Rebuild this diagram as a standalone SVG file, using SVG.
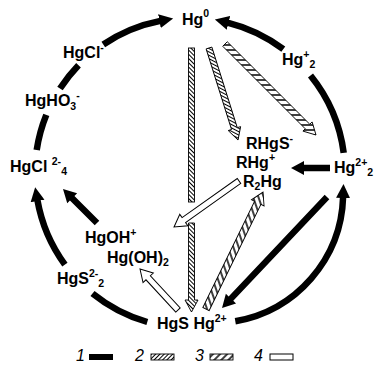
<svg xmlns="http://www.w3.org/2000/svg" width="375" height="366" viewBox="0 0 375 366">
<style>
.lbl{font-family:"Liberation Sans",Arial,sans-serif;font-weight:bold;font-size:16px;fill:#000}
.sm{font-size:10.5px}
.leg{font-family:"Liberation Sans",Arial,sans-serif;font-style:italic;font-size:16px;fill:#000}
.arc{fill:none;stroke:#000;stroke-width:6.5}
.blk{fill:#000}
.h2{fill:url(#h2);stroke:#000;stroke-width:0.9}
.h3{fill:url(#h3);stroke:#000;stroke-width:0.9}
.wht{fill:#fff;stroke:#000;stroke-width:1}
</style>
<defs>
<pattern id="h2" width="3" height="3" patternUnits="userSpaceOnUse" patternTransform="rotate(45)">
<rect width="3" height="3" fill="#fff"/><line x1="0.5" y1="0" x2="0.5" y2="3" stroke="#000" stroke-width="1"/>
</pattern>
<pattern id="h3" width="5" height="5" patternUnits="userSpaceOnUse" patternTransform="rotate(45)">
<rect width="5" height="5" fill="#fff"/><line x1="1" y1="0" x2="1" y2="5" stroke="#000" stroke-width="1.5"/>
</pattern>
<marker id="ah" markerUnits="userSpaceOnUse" markerWidth="16" markerHeight="16" viewBox="0 -8 16 16" refX="1" refY="0" orient="auto">
<path d="M0,-7 L14,0 L0,7 z" fill="#000"/>
</marker>
</defs>

<g id="connectors">
<path class="arc" d="M103.3,44.5 A155,155 0 0 1 160.4,20.9" marker-end="url(#ah)"/>
<path class="arc" d="M78.5,65.3 A155,155 0 0 0 60.0,88.6"/>
<path class="arc" d="M46.3,114.9 A155,155 0 0 0 36.7,150.1"/>
<path class="arc" d="M283.3,49.2 A155,155 0 0 0 227.5,22.6" marker-end="url(#ah)"/>
<path class="arc" d="M310.5,75.5 A155,155 0 0 1 343.7,152.8"/>
<path class="arc" d="M235.3,321.2 A130,130 0 0 0 343.1,197" marker-end="url(#ah)"/>
<path class="arc" d="M147.3,322.0 A155,155 0 0 1 92.5,293.5"/>
<path class="arc" d="M64.9,264.6 A155,155 0 0 1 37.4,200" marker-end="url(#ah)"/>
<polygon class="blk" transform="translate(97,223) rotate(-135)" points="0,-3.2 35.1,-3.2 35.1,-7 48.1,0 35.1,7 35.1,3.2 0,3.2"/>
<polygon class="blk" transform="translate(330,168) rotate(180)" points="0,-3.2 26,-3.2 26,-7 39,0 26,7 26,3.2 0,3.2"/>
<polygon class="blk" transform="translate(327,197) rotate(133.4)" points="0,-3.2 139.8,-3.2 139.8,-7 152.8,0 139.8,7 139.8,3.2 0,3.2"/>
<g transform="translate(191.5,48) rotate(90)">
<rect class="h2" x="0" y="-3" width="154" height="6"/>
<polygon class="h2" points="175,-3 252,-3 252,-6.5 264,0 252,6.5 252,3 175,3"/>
</g>
<polygon class="h2" transform="translate(209,48) rotate(72.5)" points="0,-3 84.5,-3 84.5,-6.5 96.5,0 84.5,6.5 84.5,3 0,3"/>
<polygon class="h3" transform="translate(225,44) rotate(45)" points="0,-3.2 116.7,-3.2 116.7,-6.5 128.7,0 116.7,6.5 116.7,3.2 0,3.2"/>
<polygon class="h3" transform="translate(206,309) rotate(-64)" points="0,-3.5 118.1,-3.5 118.1,-7 130.1,0 118.1,7 118.1,3.5 0,3.5"/>
<polygon class="wht" transform="translate(239,181) rotate(144.7)" points="0,-3 67.6,-3 67.6,-7 79.6,0 67.6,7 67.6,3 0,3"/>
<polygon class="wht" transform="translate(178,310) rotate(-132.8)" points="0,-3 43.9,-3 43.9,-7 55.9,0 43.9,7 43.9,3 0,3"/>
</g>

<g id="n-hg0"><text class="lbl" x="182" y="25">Hg<tspan class="sm" dy="-8">0</tspan></text></g>
<g id="n-hgcl"><text class="lbl" x="63" y="58">HgCl<tspan class="sm" dy="-7">-</tspan></text></g>
<g id="n-hgho3"><text class="lbl" x="25" y="106">HgHO<tspan class="sm" dy="4">3</tspan><tspan class="sm" dy="-11">-</tspan></text></g>
<g id="n-hgcl4"><text class="lbl" x="10" y="172">HgCl <tspan class="sm" dy="-7">2-</tspan><tspan class="sm" dy="10">4</tspan></text></g>
<g id="n-hg2p"><text class="lbl" x="282" y="65">Hg<tspan class="sm" dy="-7">+</tspan><tspan class="sm" dy="10">2</tspan></text></g>
<g id="n-rhgs"><text class="lbl" x="246" y="149">RHgS<tspan class="sm" dy="-7">-</tspan></text></g>
<g id="n-rhg"><text class="lbl" x="236" y="168">RHg<tspan class="sm" dy="-7">+</tspan></text></g>
<g id="n-r2hg"><text class="lbl" x="243" y="187">R<tspan class="sm" dy="3">2</tspan><tspan dy="-3">Hg</tspan></text></g>
<g id="n-hg22"><text class="lbl" x="334" y="173">Hg<tspan class="sm" dy="-7">2+</tspan><tspan class="sm" dy="10">2</tspan></text></g>
<g id="n-hgoh"><text class="lbl" x="85" y="243">HgOH<tspan class="sm" dy="-7">+</tspan></text></g>
<g id="n-hgoh2"><text class="lbl" x="107" y="263">Hg(OH)<tspan class="sm" dy="3">2</tspan></text></g>
<g id="n-hgs2"><text class="lbl" x="57" y="284">HgS<tspan class="sm" dy="-7">2-</tspan><tspan class="sm" dy="10">2</tspan></text></g>
<g id="n-hgs"><text class="lbl" x="157" y="329">HgS Hg<tspan class="sm" dy="-7">2+</tspan></text></g>

<g id="legend">
<text class="leg" x="76" y="361">1</text>
<rect x="89" y="354" width="24" height="6" fill="#000"/>
<text class="leg" x="135" y="361">2</text>
<rect class="h2" x="151" y="354" width="23" height="6"/>
<text class="leg" x="195" y="361">3</text>
<rect class="h3" x="210" y="354" width="23" height="6"/>
<text class="leg" x="254" y="361">4</text>
<rect class="wht" x="270" y="354" width="23" height="6"/>
</g>
</svg>
